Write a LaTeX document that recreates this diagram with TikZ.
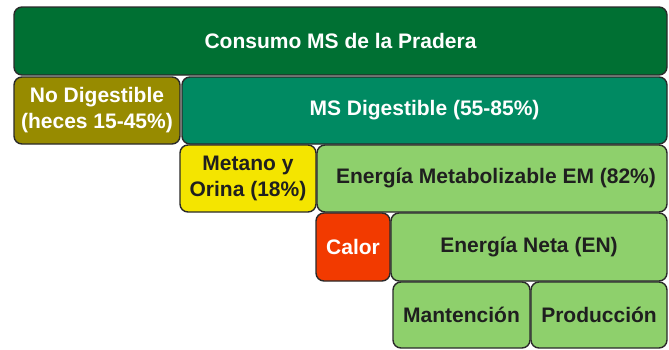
\documentclass[tikz,border=0pt]{standalone}
\usepackage{fontspec}
\setmainfont{Liberation Sans}
\definecolor{cdark}{HTML}{007033}
\definecolor{cteal}{HTML}{008A62}
\definecolor{colive}{HTML}{978B00}
\definecolor{cyel}{HTML}{F4E500}
\definecolor{clight}{HTML}{8ED06C}
\definecolor{cred}{HTML}{F23A00}
\definecolor{cedge}{HTML}{2A2A2A}
\begin{document}
\begin{tikzpicture}[x=1pt,y=-1pt,
  box/.style={draw=cedge, line width=1.4pt, rounded corners=8pt, inner sep=0pt, align=center,
    font=\fontsize{21}{26}\selectfont\bfseries},
  wtext/.style={text=white},
  btext/.style={text=black!88}]
\useasboundingbox (0,0) rectangle (669,349);
\node[box, wtext, fill=cdark, minimum width=653pt, minimum height=68pt] (consumo) at (340.5,41) {Consumo MS de la Pradera};
\node[box, wtext, fill=colive, minimum width=166pt, minimum height=67pt] (nodig) at (97,110.5) {No Digestible\\(heces 15-45\%)};
\node[box, wtext, fill=cteal, minimum width=485pt, minimum height=67pt] (msdig) at (424.5,110.5) {MS Digestible (55-85\%)};
\node[box, btext, fill=cyel, minimum width=136pt, minimum height=67pt] (metano) at (248,178.5) {Metano y\\Orina (18\%)};
\node[box, btext, fill=clight, minimum width=350pt, minimum height=67pt] (em) at (492,178.5) {\hspace{8pt}Energía Metabolizable EM (82\%)};
\node[box, wtext, fill=cred, minimum width=74pt, minimum height=68pt] (calor) at (353,247) {Calor};
\node[box, btext, fill=clight, minimum width=276pt, minimum height=68pt] (en) at (529,247) {Energía Neta (EN)};
\node[box, btext, fill=clight, minimum width=137pt, minimum height=66pt] (mant) at (461.5,315) {Mantención};
\node[box, btext, fill=clight, minimum width=136pt, minimum height=66pt] (prod) at (599,315) {Producción};
\end{tikzpicture}
\end{document}
